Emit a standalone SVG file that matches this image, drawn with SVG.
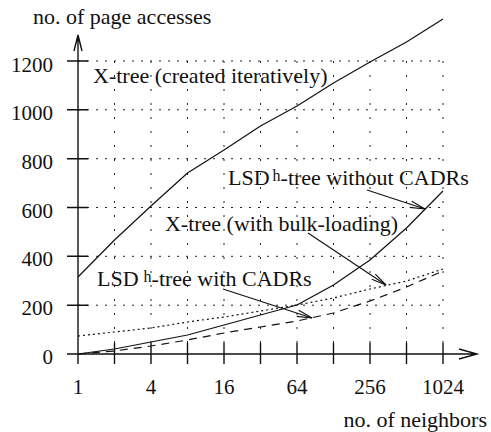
<svg xmlns="http://www.w3.org/2000/svg" width="491" height="432" viewBox="0 0 491 432">
<style>
text{font-family:"Liberation Serif","Times New Roman",serif;fill:#111}
.lbl{font-size:22px}
.num{font-size:21px}
.sup{font-size:16px}
.hgrid{stroke:#222;stroke-width:1;stroke-dasharray:2 7;fill:none}
.vgrid{stroke:#222;stroke-width:1;stroke-dasharray:2 12;fill:none}
.axis{stroke:#111;stroke-width:1.4;fill:none}
.curve{stroke:#111;stroke-width:1.2;fill:none;stroke-linejoin:round}
.dot{stroke-dasharray:2 3}
.dash{stroke-dasharray:8 6}
.ptr{stroke:#111;stroke-width:1.1;fill:none;marker-end:url(#open)}
</style>
<defs>
<marker id="open" markerUnits="userSpaceOnUse" markerWidth="20" markerHeight="12" viewBox="-16 -6 20 12" refX="0" refY="0" orient="auto">
<path d="M-15,-3.2 L0,0 L-15,3.2" fill="none" stroke="#111" stroke-width="1.1"/>
</marker>
</defs>
<g id="grid">
<path class="hgrid" d="M78,61H443M78,109.8H443M78,158.7H443M78,207.5H443M78,256.3H443M78,305.2H443"/>
<path class="vgrid" d="M114.5,61V354M151,61V354M187.5,61V354M224,61V354M260.5,61V354M297,61V354M333.5,61V354M370,61V354M406.5,61V354M443,61V354"/>
</g>
<g id="axes">
<path class="axis" d="M78,364V35M74,51L78,35L82,51"/>
<path class="axis" d="M67,354H477M459,349L477,354L459,359"/>
<path class="axis" d="M67,61H88M67,109.8H88M67,158.7H88M67,207.5H88M67,256.3H88M67,305.2H88"/>
<path class="axis" d="M114.5,343V364M151,343V364M187.5,343V364M224,343V364M260.5,343V364M297,343V364M333.5,343V364M370,343V364M406.5,343V364M443,343V364"/>
</g>
<g id="y-labels" class="num" text-anchor="end">
<text x="53" y="364">0</text>
<text x="53" y="315">200</text>
<text x="53" y="266">400</text>
<text x="53" y="218">600</text>
<text x="53" y="169">800</text>
<text x="53" y="120">1000</text>
<text x="53" y="72">1200</text>
</g>
<g id="x-labels" class="num" text-anchor="middle">
<text x="78" y="394">1</text>
<text x="151" y="394">4</text>
<text x="224" y="394">16</text>
<text x="297" y="394">64</text>
<text x="370" y="394">256</text>
<text x="443" y="394">1024</text>
</g>
<g id="axis-titles" class="lbl">
<text x="33" y="24">no. of page accesses</text>
<text x="487" y="427" text-anchor="end">no. of neighbors</text>
</g>
<g id="connectors">
<polyline id="xtree-iter" class="curve" points="78,277 114.5,240 151,206 187.5,173 224,150 260.5,126 297,106 333.5,83 370,62 406.5,42 443,19"/>
<polyline id="lsd-without" class="curve" points="78,354 114.5,349 151,342 187.5,335 224,325 260.5,315 297,305 333.5,285 370,260 406.5,228 443,191"/>
<polyline id="xtree-bulk" class="curve dot" points="78,336 114.5,332 151,328 187.5,322 224,317 260.5,311 297,305 333.5,298 370,289 406.5,281 443,269"/>
<polyline id="lsd-with" class="curve dash" points="78,354 114.5,351 151,346 187.5,340 224,333 260.5,327 297,321 333.5,313 370,301 406.5,287 443,271"/>
<line class="ptr" x1="367" y1="190" x2="425" y2="209"/>
<line class="ptr" x1="308" y1="233" x2="386" y2="285"/>
<line class="ptr" x1="223" y1="289" x2="312" y2="318"/>
</g>
<g id="label-xtree-iter" class="lbl">
<text x="93" y="83">X-tree (created iteratively)</text>
</g>
<g id="label-lsd-without" class="lbl">
<text x="228" y="185">LSD<tspan class="sup" dx="3" dy="-4">h</tspan><tspan dy="4">-tree without CADRs</tspan></text>
</g>
<g id="label-xtree-bulk" class="lbl">
<text x="165" y="231" textLength="233" lengthAdjust="spacingAndGlyphs">X-tree (with bulk-loading)</text>
</g>
<g id="label-lsd-with" class="lbl">
<text x="97" y="286">LSD<tspan class="sup" dx="5" dy="-4">h</tspan><tspan dy="4">-tree with CADRs</tspan></text>
</g>
</svg>
